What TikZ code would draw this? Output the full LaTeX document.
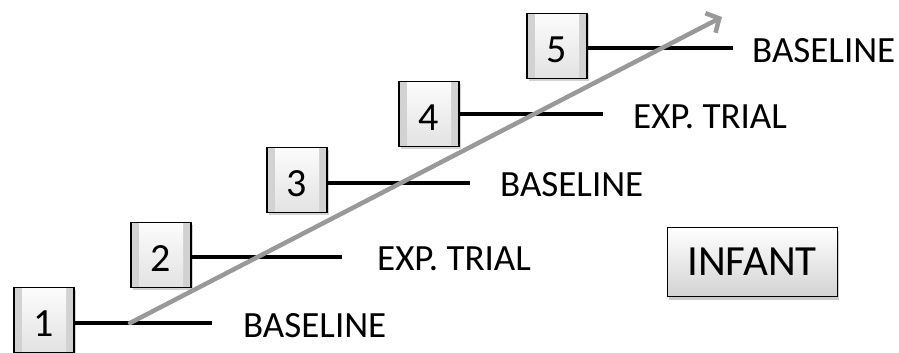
\documentclass[tikz,border=0pt]{standalone}
\usepackage{fontspec}
\setmainfont{Carlito}
\usetikzlibrary{arrows.meta,shadows,calc}
\begin{document}
\begin{tikzpicture}[x=1pt,y=-1pt,
  numbox/.style={minimum width=60pt,minimum height=65pt,inner sep=0pt,
    text height=33pt,text depth=0pt,
    draw=black,line width=1.4pt,fill=gray!35,
    drop shadow={shadow xshift=2pt,shadow yshift=-2pt,opacity=0.35},
    path picture={
      \fill[gray!12] (path picture bounding box.north west) --
        ($(path picture bounding box.north west)+(8pt,8pt)$) --
        ($(path picture bounding box.north east)+(-8pt,8pt)$) --
        (path picture bounding box.north east) -- cycle;
      \fill[gray!55] (path picture bounding box.south west) --
        ($(path picture bounding box.south west)+(8pt,-8pt)$) --
        ($(path picture bounding box.south east)+(-8pt,-8pt)$) --
        (path picture bounding box.south east) -- cycle;
      \fill[top color=white,bottom color=gray!25]
        ($(path picture bounding box.south west)+(8pt,-8pt)$) rectangle
        ($(path picture bounding box.north east)+(-8pt,8pt)$);
    },
    font=\fontsize{40}{44}\selectfont},
  bar/.style={line width=3.2pt,black},
  lab/.style={anchor=west,inner sep=0pt,font=\fontsize{37}{42}\selectfont},
  infbox/.style={draw=black,line width=1pt,top color=white,bottom color=gray!35,
    minimum width=170pt,minimum height=69pt,
    drop shadow={shadow xshift=2pt,shadow yshift=-3pt,opacity=0.4},
    font=\fontsize{43}{48}\selectfont},
  inner sep=0pt]
\useasboundingbox (0,0) rectangle (899,353);
% boxes
\node[numbox] (b1) at (44,320) {1};
\node[numbox] (b2) at (161,255) {2};
\node[numbox] (b3) at (297,180) {3};
\node[numbox] (b4) at (429,114) {4};
\node[numbox] (b5) at (557,46) {5};
% line ends
\coordinate (e1) at (212,323);
\coordinate (e2) at (342,257);
\coordinate (e3) at (470,183);
\coordinate (e4) at (603,114);
\coordinate (e5) at (733,48);
\draw[bar] (b1.east |- e1) -- (e1);
\draw[bar] (b2.east |- e2) -- (e2);
\draw[bar] (b3.east |- e3) -- (e3);
\draw[bar] (b4.east |- e4) -- (e4);
\draw[bar] (b5.east |- e5) -- (e5);
% labels
\node[lab] (l1) at (243,326) {BASELINE};
\node[lab] (l2) at (377,259) {EXP. TRIAL};
\node[lab] (l3) at (500,185) {BASELINE};
\node[lab] (l4) at (633,117) {EXP. TRIAL};
\node[lab] (l5) at (752,51) {BASELINE};
% arrow
\coordinate (s) at (130,323);
\coordinate (t) at (722,17);
\draw[line width=4.5pt,color=gray!80,line cap=round,
  -{Straight Barb[length=10pt,width=22pt,line width=4.5pt]}] (s) -- (t);
% infant
\node[infbox] (inf) at (752,262) {INFANT};
\end{tikzpicture}
\end{document}
